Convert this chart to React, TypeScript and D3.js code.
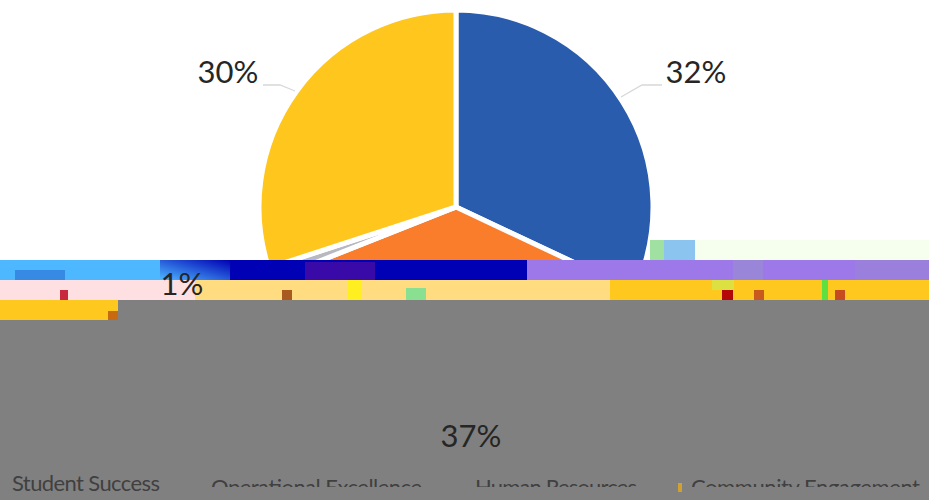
import React from "react";
import * as d3 from "d3";

const categories = ["Student Success", "Operational Excellence", "Human Resources", "Community Engagement"];
const sliceNames = ["Student Success", "Operational Excellence", "Human Resources", "Community Engagement"];
const values = [32, 37, 1, 30];
const colors = ["#2a5cad", "#f97d2b", "#b8b8c0", "#ffc61e"];
const valueLabels = ["32%", "37%", "1%", "30%"];

const W = 929, H = 500, CX = 456, CY = 207, R = 197;

const FONT = "Lato, 'Open Sans', sans-serif";

export default function App() {
  const pie = d3.pie<number>().sort(null).value((d) => d);
  const arc = d3.arc<d3.PieArcDatum<number>>().innerRadius(0).outerRadius(R);
  const arcs = pie(values);
  const scale = d3.scaleOrdinal<string, string>().domain(sliceNames).range(colors);
  const legendX = [12, 211, 475, 691];
  const legendW = [148, 211, 162, 229];

  return (
    <svg width={W} height={H} viewBox={`0 0 ${W} ${H}`}
      style={{ position: "absolute", left: 0, top: 0, display: "block", background: "#fff" }}>
      <defs>
        <clipPath id="topPart"><rect x={0} y={0} width={W} height={260} /></clipPath>
        <clipPath id="legendClip"><rect x={170} y={470} width={W} height={17} /></clipPath>
        <clipPath id="legendClip2"><rect x={0} y={470} width={170} height={22} /></clipPath>
        <linearGradient id="streak" x1="0" x2="1" y1="1" y2="0">
          <stop offset="0" stopColor="#4db8ff" />
          <stop offset="1" stopColor="#0000b4" />
        </linearGradient>
      </defs>

      <g clipPath="url(#topPart)">
        <g transform={`translate(${CX},${CY})`}>
          {arcs.map((a, i) => (
            <path key={i} d={arc(a) || ""} fill={scale(sliceNames[i])} stroke="#fff" strokeWidth={5} strokeLinejoin="round" />
          ))}
        </g>
        <path d="M621,97 L642,85 L662,85" fill="none" stroke="#d8d8d8" strokeWidth={1.3} />
        <path d="M295,91 L280,85 L263,85" fill="none" stroke="#d8d8d8" strokeWidth={1.3} />
      </g>

      {/* damaged image bands */}
      <rect x={650} y={240} width={45} height={20} fill="#8cc4f0" />
      <rect x={650} y={240} width={14} height={20} fill="#a0e0a0" />
      <rect x={695} y={240} width={234} height={20} fill="#f6ffee" />

      <rect x={0} y={260} width={W} height={20} fill="#4db8ff" />
      <rect x={160} y={260} width={70} height={20} fill="url(#streak)" />
      <rect x={230} y={260} width={297} height={20} fill="#0000b4" />
      <rect x={527} y={260} width={402} height={20} fill="#9c78e8" />
      <rect x={15} y={270} width={50} height={10} fill="#2a6ad0" opacity={0.6} />
      <rect x={305} y={262} width={70} height={18} fill="#3a0aa8" />
      <rect x={733} y={260} width={30} height={20} fill="#9a86d8" />
      <rect x={855} y={260} width={74} height={20} fill="#9a80dc" />

      <rect x={0} y={280} width={195} height={20} fill="#ffe0e2" />
      <rect x={195} y={280} width={415} height={20} fill="#ffdc80" />
      <rect x={610} y={280} width={319} height={20} fill="#ffc81e" />
      <rect x={60} y={290} width={8} height={10} fill="#c8283c" />
      <rect x={282} y={290} width={10} height={10} fill="#a85a20" />
      <rect x={348} y={280} width={14} height={20} fill="#ffee20" />
      <rect x={406} y={288} width={20} height={12} fill="#88e090" />
      <rect x={712} y={280} width={22} height={10} fill="#dce040" />
      <rect x={722} y={290} width={11} height={10} fill="#b40808" />
      <rect x={822} y={280} width={6} height={20} fill="#60e040" />
      <rect x={754} y={290} width={10} height={10} fill="#c85a20" />
      <rect x={835} y={290} width={10} height={10} fill="#c84a20" />

      <rect x={0} y={300} width={118} height={20} fill="#ffc81e" />
      <rect x={108} y={311} width={10} height={10} fill="#c86a10" />
      <rect x={118} y={300} width={811} height={20} fill="#808080" />
      <rect x={0} y={320} width={W} height={180} fill="#808080" />
      <rect x={678} y={483} width={4} height={9} fill="#d0a030" />

      {/* percentage labels */}
      <g fontFamily={FONT} fontSize={31} fill="#262626" textAnchor="middle">
        <text x={696} y={83}>{valueLabels[0]}</text>
        <text x={471} y={447}>{valueLabels[1]}</text>
        <text x={182} y={295}>{valueLabels[2]}</text>
        <text x={228} y={83}>{valueLabels[3]}</text>
      </g>

      {/* legend, cut by the damage */}
      <g clipPath="url(#legendClip2)">
        <text x={legendX[0]} y={491} fontFamily={FONT} fontSize={22} fill="#404040"
          textLength={legendW[0]}>{categories[0]}</text>
      </g>
      <g clipPath="url(#legendClip)">
        {categories.slice(1).map((c, i) => (
          <text key={c} x={legendX[i + 1]} y={495} fontFamily={FONT} fontSize={22} fill="#404040"
            textLength={legendW[i + 1]}>{c}</text>
        ))}
      </g>
    </svg>
  );
}
